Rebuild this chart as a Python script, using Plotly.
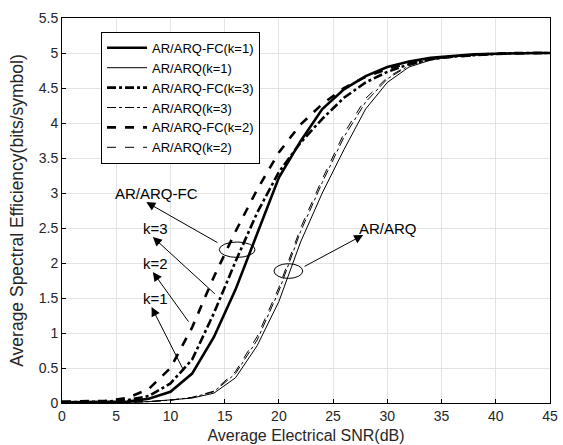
import plotly.graph_objects as go

# SNR samples (dB)
snr = [0, 2, 4, 6, 8, 10, 12, 14, 16, 18, 20, 22, 24, 26, 28, 30, 32, 34, 36, 38, 40, 42, 44, 45]

# AR/ARQ-FC curves
fc_k1 = [0.01, 0.01, 0.01, 0.02, 0.06, 0.16, 0.42, 0.94, 1.62, 2.42, 3.22, 3.74, 4.2, 4.48, 4.67, 4.8, 4.88, 4.93, 4.96, 4.98, 4.99, 5.0, 5.0, 5.0]
fc_k3 = [0.01, 0.01, 0.02, 0.04, 0.1, 0.28, 0.62, 1.28, 2.02, 2.72, 3.3, 3.72, 4.06, 4.36, 4.58, 4.73, 4.84, 4.91, 4.95, 4.97, 4.99, 5.0, 5.0, 5.0]
fc_k2 = [0.02, 0.02, 0.03, 0.07, 0.2, 0.5, 1.08, 1.8, 2.45, 3.05, 3.58, 3.98, 4.27, 4.5, 4.66, 4.77, 4.86, 4.92, 4.95, 4.97, 4.99, 5.0, 5.0, 5.0]

# AR/ARQ curves
arq_k1 = [0.0, 0.0, 0.0, 0.01, 0.02, 0.04, 0.07, 0.14, 0.36, 0.82, 1.45, 2.3, 3.0, 3.62, 4.2, 4.58, 4.8, 4.9, 4.95, 4.97, 4.99, 5.0, 5.0, 5.0]
arq_k3 = [0.0, 0.0, 0.0, 0.01, 0.02, 0.04, 0.08, 0.16, 0.42, 0.9, 1.6, 2.45, 3.15, 3.8, 4.3, 4.63, 4.82, 4.91, 4.96, 4.98, 4.99, 5.0, 5.0, 5.0]
arq_k2 = [0.0, 0.0, 0.0, 0.01, 0.02, 0.04, 0.08, 0.17, 0.45, 0.95, 1.65, 2.5, 3.2, 3.85, 4.35, 4.65, 4.83, 4.92, 4.96, 4.98, 4.99, 5.0, 5.0, 5.0]

x_ticks = [0, 5, 10, 15, 20, 25, 30, 35, 40, 45]
y_ticks = [0, 0.5, 1, 1.5, 2, 2.5, 3, 3.5, 4, 4.5, 5, 5.5]

FONT = "Arial, Liberation Sans, sans-serif"

fig = go.Figure()

series = [
    ("AR/ARQ-FC(k=1)", fc_k1, 2.6, "solid"),
    ("AR/ARQ(k=1)", arq_k1, 1.0, "solid"),
    ("AR/ARQ-FC(k=3)", fc_k3, 2.6, "dashdot"),
    ("AR/ARQ(k=3)", arq_k3, 1.0, "dashdot"),
    ("AR/ARQ-FC(k=2)", fc_k2, 2.6, "dash"),
    ("AR/ARQ(k=2)", arq_k2, 1.0, "dash"),
]
for name, vals, w, dash in series:
    fig.add_trace(
        go.Scatter(
            x=snr,
            y=vals,
            mode="lines",
            name=name,
            line=dict(color="black", width=w, dash=dash),
        )
    )

# Ellipses grouping the curves
fig.add_shape(type="circle", xref="x", yref="y", x0=14.5, x1=17.8, y0=2.08, y1=2.30,
              line=dict(color="black", width=1))
fig.add_shape(type="circle", xref="x", yref="y", x0=19.55, x1=22.2, y0=1.78, y1=1.99,
              line=dict(color="black", width=1))

# Arrows: (head_x, head_y, tail_x, tail_y)
arrows = [
    (7.77, 2.87, 14.47, 2.28),
    (8.38, 2.37, 14.23, 1.54),
    (8.38, 1.87, 11.77, 1.14),
    (8.26, 1.37, 11.3, 0.44),
    (27.77, 2.40, 22.23, 1.94),
]
for hx, hy, tx, ty in arrows:
    fig.add_annotation(
        x=hx, y=hy, ax=tx, ay=ty, xref="x", yref="y", axref="x", ayref="y",
        text="", showarrow=True, arrowhead=2, arrowsize=1.8, arrowwidth=1,
        arrowcolor="black", standoff=0, startstandoff=0,
    )

labels = [
    ("AR/ARQ-FC", 8.72, 3.0),
    ("k=3", 8.61, 2.50),
    ("k=2", 8.61, 1.99),
    ("k=1", 8.61, 1.49),
    ("AR/ARQ", 30.05, 2.50),
]
for txt, lx, ly in labels:
    fig.add_annotation(x=lx, y=ly, xref="x", yref="y", text=txt, showarrow=False,
                       font=dict(family=FONT, size=15, color="black"))

axis_common = dict(
    showgrid=True,
    gridcolor="#e3e3e3",
    gridwidth=1,
    showline=True,
    linecolor="black",
    linewidth=1,
    mirror=True,
    ticks="inside",
    ticklen=4,
    tickcolor="black",
    zeroline=False,
    automargin=False,
    tickfont=dict(family=FONT, size=14, color="#262626"),
)

fig.update_xaxes(
    range=[0, 45], tickvals=x_ticks,
    title=dict(text="Average Electrical SNR(dB)", font=dict(family=FONT, size=16, color="#262626"), standoff=7),
    **axis_common,
)
fig.update_yaxes(
    range=[0, 5.5], tickvals=y_ticks, ticktext=[f"{v:g}" for v in y_ticks],
    title=dict(text="Average Spectral Efficiency(bits/symbol)", font=dict(family=FONT, size=17.5, color="#262626"), standoff=10),
    **axis_common,
)

fig.update_layout(
    width=563,
    height=445,
    margin=dict(l=62, r=13, t=18, b=42),
    plot_bgcolor="white",
    paper_bgcolor="white",
    showlegend=True,
    legend=dict(
        x=0.08, y=0.964, xanchor="left", yanchor="top",
        bgcolor="white", bordercolor="black", borderwidth=1,
        font=dict(family=FONT, size=13, color="black"),
        tracegroupgap=0, itemwidth=40,
    ),
)

# drop the default page margin so the figure sits at the window origin
fig.write_html(
    "out.html",
    config={"displayModeBar": False},
    post_script="document.body.style.margin='0';",
)
